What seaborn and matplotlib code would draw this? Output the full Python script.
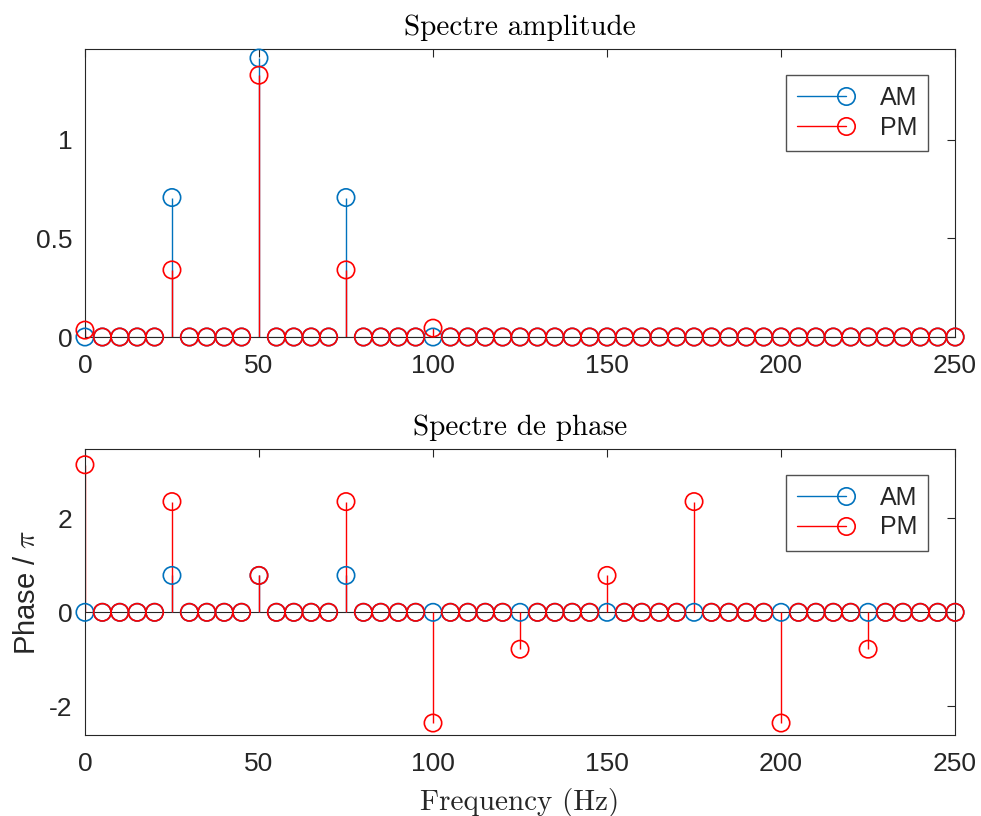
import numpy as np
import pandas as pd
import matplotlib
matplotlib.use("Agg")
import matplotlib.pyplot as plt
import seaborn as sns
from matplotlib.lines import Line2D
from matplotlib.legend_handler import HandlerBase

# ---- data ----
freq = list(range(0, 255, 5))
am_amp_peaks = {25: 0.707, 50: 1.414, 75: 0.707}
pm_amp_peaks = {0: 0.035, 25: 0.34, 50: 1.327, 75: 0.34, 100: 0.045}
am_phase_peaks = {25: 0.785, 50: 0.785, 75: 0.785}
pm_phase_peaks = {0: 3.14, 25: 2.356, 50: 0.785, 75: 2.356, 100: -2.356,
                  125: -0.785, 150: 0.785, 175: 2.356, 200: -2.356, 225: -0.785}

am_amp = [am_amp_peaks.get(f, 0.0) for f in freq]
pm_amp = [pm_amp_peaks.get(f, 0.0) for f in freq]
am_phase = [am_phase_peaks.get(f, 0.0) for f in freq]
pm_phase = [pm_phase_peaks.get(f, 0.0) for f in freq]

series_names = ["AM", "PM"]
colors = {"AM": "#0072BD", "PM": "#FF0000"}
xticks = [0, 50, 100, 150, 200, 250]

sns.set_theme(style="white")
plt.rcParams["font.family"] = ["Liberation Sans", "DejaVu Sans"]
plt.rcParams["mathtext.fontset"] = "cm"
plt.rcParams["axes.unicode_minus"] = False

fig = plt.figure(figsize=(9.81, 8.16), dpi=100)
ax1 = fig.add_axes([0.0866, 0.587, 0.887, 0.353])
ax2 = fig.add_axes([0.0866, 0.0993, 0.887, 0.3505])

MS = 12.5
GRAY = "#262626"


class StemHandler(HandlerBase):
    def create_artists(self, legend, orig_handle, xdescent, ydescent,
                       width, height, fontsize, trans):
        y = height / 2 - ydescent
        c = orig_handle.get_color()
        ln = Line2D([-xdescent, width - xdescent - 6], [y, y], color=c, lw=1.0,
                    transform=trans)
        mk = Line2D([width - xdescent - 6], [y], marker="o", ms=MS,
                    mfc="none", mec=c, mew=1.2, ls="none", transform=trans)
        return [ln, mk]


def stem_panel(ax, series, ylim, yticks, yticklabels):
    ax.axhline(0, color=GRAY, lw=0.8, zorder=1)
    handles = []
    for name, vals in series:
        df = pd.DataFrame({"f": freq, "v": vals})
        nz = df[df["v"] != 0]
        ax.vlines(nz["f"], 0, nz["v"], color=colors[name], lw=1.0, zorder=2)
        sns.scatterplot(data=df, x="f", y="v", ax=ax, marker="o",
                        s=(MS * 1.0) ** 2, facecolors="none",
                        edgecolor=colors[name], linewidth=1.2, zorder=3,
                        legend=False, clip_on=False)
        handles.append(Line2D([], [], color=colors[name], label=name))
    ax.set_xlim(0, 250)
    ax.set_ylim(*ylim)
    ax.set_xticks(xticks)
    ax.set_xticklabels([str(t) for t in xticks])
    ax.set_yticks(yticks)
    ax.set_yticklabels(yticklabels)
    ax.tick_params(direction="in", length=6, width=0.8, colors=GRAY,
                   labelsize=19, top=True, right=True)
    ax.tick_params(axis="x", pad=12)
    ax.tick_params(axis="y", pad=9)
    for sp in ax.spines.values():
        sp.set_color(GRAY)
        sp.set_linewidth(0.8)
        sp.set_visible(True)
    ax.set_xlabel("")
    ax.set_ylabel("")
    leg = ax.legend(handles=handles, labels=series_names,
                    handler_map={Line2D: StemHandler()},
                    loc="upper right", bbox_to_anchor=(0.969, 0.91),
                    fontsize=18, handlelength=2.3, handletextpad=1.0,
                    frameon=True, fancybox=False, borderpad=0.45,
                    labelspacing=0.22, borderaxespad=0.0)
    leg.get_frame().set_edgecolor(GRAY)
    leg.get_frame().set_linewidth(1.0)
    return ax


stem_panel(ax1, [("AM", am_amp), ("PM", pm_amp)], (0, 1.46),
           [0, 0.5, 1], ["0", "0.5", "1"])
stem_panel(ax2, [("AM", am_phase), ("PM", pm_phase)], (-2.61, 3.476),
           [-2, 0, 2], ["-2", "0", "2"])

ax1.set_title("Spectre amplitude", family="cmr10", fontsize=21, pad=10,
              color="black")
ax2.set_title("Spectre de phase", family="cmr10", fontsize=21, pad=10,
              color="black")
ax2.set_xlabel("Frequency (Hz)", family="cmr10", fontsize=21, labelpad=9,
               color=GRAY)
ax2.set_ylabel("Phase / $\\pi$", fontsize=21, color=GRAY, labelpad=6)

fig.savefig("out.png", dpi=100)
